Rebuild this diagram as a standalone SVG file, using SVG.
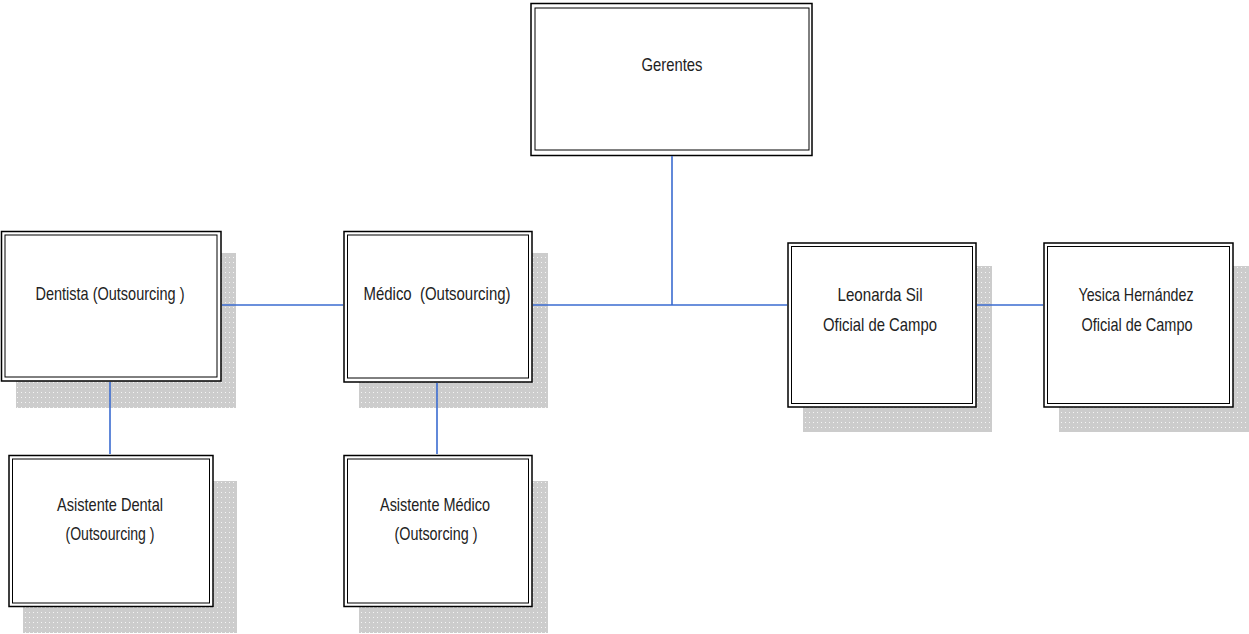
<svg xmlns="http://www.w3.org/2000/svg" width="1249" height="634" viewBox="0 0 1249 634">
<defs>
<pattern id="dots" width="4" height="5" patternUnits="userSpaceOnUse">
<rect width="4" height="5" fill="#cccccc"/>
<rect x="1" y="2" width="1" height="1" fill="#f4f4f4"/>
</pattern>
<style>
.sh{fill:url(#dots)}
.o{fill:#fff;stroke:#000;stroke-width:1.5}
.i{fill:none;stroke:#000;stroke-width:1}
.t{font-family:"Liberation Sans",Arial,sans-serif;font-size:19px;fill:#222;text-anchor:middle}
.c{stroke:#3a6bd0;stroke-width:1.6;fill:none}
</style>
</defs>
<rect width="1249" height="634" fill="#fff"/>
<g id="gerentes">
<rect class="o" x="531" y="3.5" width="281" height="152"/>
<rect class="i" x="535" y="8" width="274" height="142"/>
<text class="t" x="672" y="71" textLength="61" lengthAdjust="spacingAndGlyphs">Gerentes</text>
</g>
<g id="dentista">
<rect class="sh" x="16" y="253" width="220" height="155"/>
<rect class="o" x="1.5" y="231.5" width="219.5" height="149.5"/>
<rect class="i" x="5" y="235" width="212" height="142"/>
<text class="t" x="110" y="300" textLength="149" lengthAdjust="spacingAndGlyphs">Dentista (Outsourcing )</text>
</g>
<g id="medico">
<rect class="sh" x="359" y="253" width="189" height="155"/>
<rect class="o" x="344" y="231.5" width="188" height="150.5"/>
<rect class="i" x="347.5" y="235" width="181" height="143"/>
<text class="t" x="437" y="300" textLength="147" lengthAdjust="spacingAndGlyphs">Médico&#160; (Outsourcing)</text>
</g>
<g id="leonarda">
<rect class="sh" x="803" y="266" width="189" height="166"/>
<rect class="o" x="788" y="243" width="188" height="164"/>
<rect class="i" x="791.5" y="246.5" width="181" height="157"/>
<text class="t" x="880" y="301" textLength="85" lengthAdjust="spacingAndGlyphs">Leonarda Sil</text>
<text class="t" x="880" y="331" textLength="114" lengthAdjust="spacingAndGlyphs">Oficial de Campo</text>
</g>
<g id="yesica">
<rect class="sh" x="1059" y="266" width="190" height="166"/>
<rect class="o" x="1044" y="243" width="189" height="164"/>
<rect class="i" x="1047.5" y="246.5" width="182" height="157"/>
<text class="t" x="1136" y="301" textLength="115" lengthAdjust="spacingAndGlyphs">Yesica Hernández</text>
<text class="t" x="1137" y="331" textLength="111" lengthAdjust="spacingAndGlyphs">Oficial de Campo</text>
</g>
<g id="asistente-dental">
<rect class="sh" x="23" y="481" width="214" height="152"/>
<rect class="o" x="9" y="455.5" width="204" height="151"/>
<rect class="i" x="12.5" y="459" width="197" height="144"/>
<text class="t" x="110" y="511" textLength="106" lengthAdjust="spacingAndGlyphs">Asistente Dental</text>
<text class="t" x="110" y="540" textLength="89" lengthAdjust="spacingAndGlyphs">(Outsourcing )</text>
</g>
<g id="asistente-medico">
<rect class="sh" x="359" y="481" width="189" height="152"/>
<rect class="o" x="344" y="455.5" width="188" height="151"/>
<rect class="i" x="347.5" y="459" width="181" height="144"/>
<text class="t" x="435" y="511" textLength="110" lengthAdjust="spacingAndGlyphs">Asistente Médico</text>
<text class="t" x="436" y="540" textLength="83" lengthAdjust="spacingAndGlyphs">(Outsorcing )</text>
</g>
<g id="connectors">
<line class="c" x1="672" y1="156" x2="672" y2="305"/>
<line class="c" x1="222" y1="305" x2="343" y2="305"/>
<line class="c" x1="533" y1="305" x2="787" y2="305"/>
<line class="c" x1="977" y1="305" x2="1043" y2="305"/>
<line class="c" x1="110" y1="382" x2="110" y2="454"/>
<line class="c" x1="437" y1="383" x2="437" y2="454"/>
</g>
</svg>
